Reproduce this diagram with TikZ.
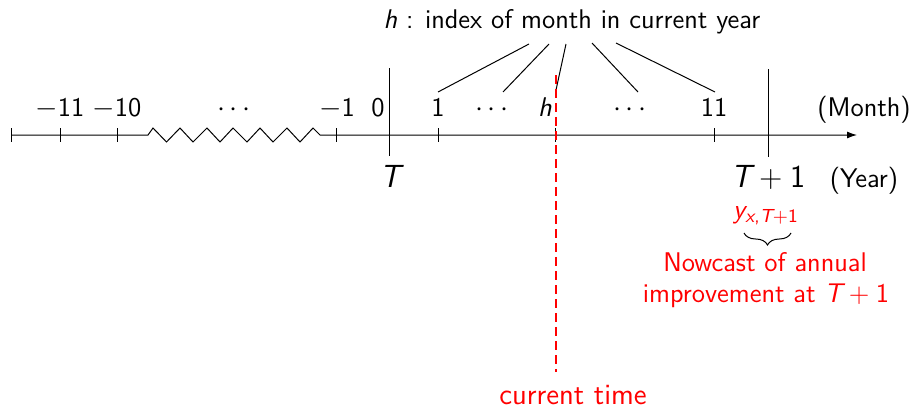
\documentclass[tikz,border=0pt]{standalone}
\usetikzlibrary{decorations.pathreplacing,arrows.meta}
\renewcommand{\familydefault}{\sfdefault}
\SetSymbolFont{operators}{normal}{TU}{lmss}{m}{n}
\SetSymbolFont{letters}{normal}{TU}{lmss}{m}{it}
\mathcode`\,="602C
\tikzset{
  lbl/.style={anchor=base, inner sep=0pt},
  yearlbl/.style={anchor=base, inner sep=0pt, font=\fontsize{16}{19}\selectfont},
  tickmark/.style={line width=0.5pt},
  nowred/.style={red},
  curtime/.style={red, line width=1pt, dash pattern=on 4.5pt off 2.5pt},
}
\begin{document}
\begin{tikzpicture}[x=0.5pt,y=-0.5pt, font=\fontsize{13.5}{16}\selectfont, line width=0.5pt]
\useasboundingbox (0,0) rectangle (914,408);
% axis
\coordinate (start) at (11,135);
\coordinate (zs) at (148,135);
\coordinate (ze) at (320,135);
\coordinate (end) at (857,135);
\draw[-{Latex[length=5pt,width=3.5pt]}] (start) -- (zs)
  -- (153,128) -- (166.5,142) -- (180,128) -- (193,142) -- (207,128)
  -- (220,142) -- (233,128) -- (247,142) -- (260,128) -- (273,142)
  -- (287,128) -- (300,142) -- (313,128)
  -- (ze) -- (end);
% ticks
\foreach \x in {11,60,117,336,438,555,714}
  \draw[tickmark] (\x,128) -- (\x,142);
% year lines
\coordinate (Ttop) at (389,68);
\coordinate (Tbot) at (389,156);
\coordinate (T1top) at (768,69);
\coordinate (T1bot) at (768,157);
\draw (Ttop) -- (Tbot);
\draw (T1top) -- (T1bot);
% month labels
\node[lbl] (m11) at (60,116) {$-11$};
\node[lbl] (m10) at (117,116) {$-10$};
\node[lbl] (mdots) at (234,116) {$\cdots$};
\node[lbl] (m1n) at (337,116) {$-1$};
\node[lbl] (m0) at (378,116) {$0$};
\node[lbl] (p1) at (438,116) {$1$};
\node[lbl] (pd1) at (492,116) {$\cdots$};
\node[lbl] (ph) at (545,116) {$h$};
\node[lbl] (pd2) at (630,116) {$\cdots$};
\node[lbl] (p11) at (714,116) {$11$};
\node[lbl] (month) at (864,116) {(Month)};
% year labels
\node[yearlbl] (yT) at (390,187) {$T$};
\node[yearlbl] (yT1) at (768,187) {$T+1$};
\node[lbl] (year) at (864,187) {(Year)};
% top label and fan
\node[lbl] (top) at (572,28) {$h$ : index of month in current year};
\coordinate (f1a) at (529,44); \coordinate (f1b) at (438,92);
\coordinate (f2a) at (549,44); \coordinate (f2b) at (503,92);
\coordinate (f3a) at (566,44); \coordinate (f3b) at (556,90);
\coordinate (f4a) at (592,43); \coordinate (f4b) at (638,92);
\coordinate (f5a) at (616,43); \coordinate (f5b) at (715,92);
\draw (f1a) -- (f1b);
\draw (f2a) -- (f2b);
\draw (f3a) -- (f3b);
\draw (f4a) -- (f4b);
\draw (f5a) -- (f5b);
% current time
\coordinate (ctop) at (556,75);
\coordinate (cbot) at (556,372);
\draw[curtime] (ctop) -- (cbot);
\node[lbl, nowred, font=\fontsize{14.7}{17}\selectfont] (ctime) at (573,404) {current time};
% nowcast
\node[lbl, nowred] (yx) at (766,218) {$y_{x,T+1}$};
\coordinate (bl) at (744,233);
\coordinate (br) at (791,233);
\draw[decorate, decoration={brace, mirror, amplitude=6pt}] (bl) -- (br);
\node[lbl, nowred] (now1) at (765,271) {Nowcast of annual};
\node[lbl, nowred] (now2) at (766,302) {improvement at $T+1$};
\end{tikzpicture}
\end{document}
